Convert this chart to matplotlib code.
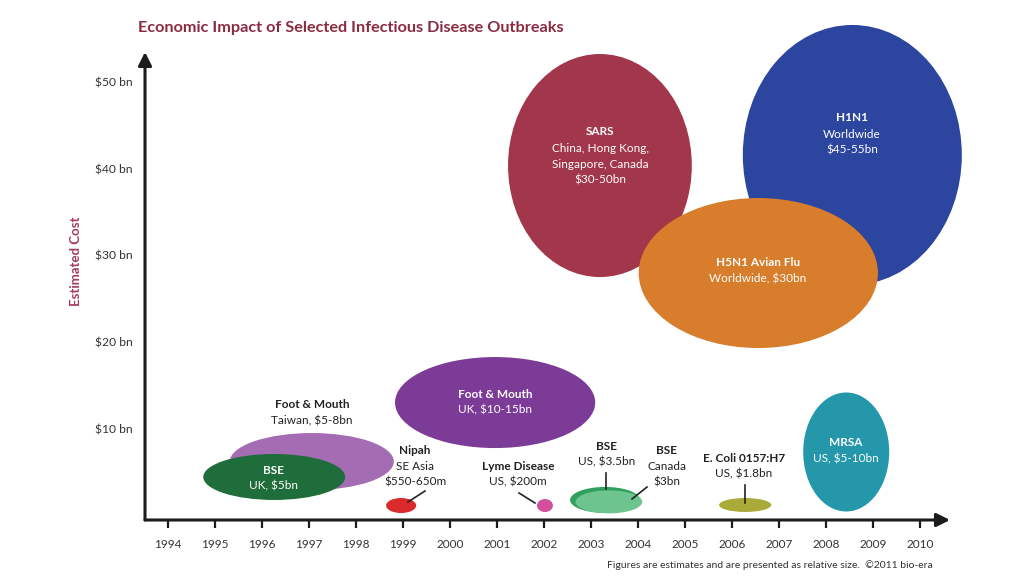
import matplotlib
matplotlib.use("Agg")
import matplotlib.pyplot as plt
from matplotlib.patches import Ellipse

plt.rcParams['font.family'] = ['Lato', 'DejaVu Sans']

# ---------------- data ----------------
years = list(range(1994, 2011))
cost_ticks = [10, 20, 30, 40, 50]
cost_tick_labels = ["$10 bn", "$20 bn", "$30 bn", "$40 bn", "$50 bn"]

outbreaks = ["Foot & Mouth (Taiwan)", "BSE (UK)", "Nipah", "Foot & Mouth (UK)", "Lyme Disease",
             "SARS", "BSE (US)", "BSE (Canada)", "H1N1", "H5N1 Avian Flu", "E. Coli 0157:H7", "MRSA"]
center_year = [1997.06, 1996.26, 1998.96, 2000.96, 2002.02,
               2003.19, 2003.30, 2003.38, 2008.56, 2006.56, 2006.28, 2008.43]
center_cost = [6.25, 4.47, 1.18, 13.05, 1.18,
               40.37, 1.82, 1.60, 41.59, 27.98, 1.24, 7.35]
# relative bubble size (width in years, height in $bn)
bubble_width = [3.49, 3.02, 0.64, 4.26, 0.34,
                3.91, 1.49, 1.42, 4.66, 5.09, 1.11, 1.83]
bubble_height = [6.57, 5.30, 1.73, 10.49, 1.50,
                 25.71, 3.00, 2.65, 29.97, 17.29, 1.61, 13.72]
bubble_colors = ["#A46CB3", "#1F6D3B", "#DA2A2C", "#7D3B98", "#D4509F",
                 "#A2364A", "#30A05C", "#6EC48F", "#2C46A0", "#D77D2B", "#A9AA37", "#2497AA"]

label_titles = ["Foot & Mouth", "BSE", "Nipah", "Foot & Mouth", "Lyme Disease",
                "SARS", "BSE", "BSE", "H1N1", "H5N1 Avian Flu",
                "E. Coli 0157:H7", "MRSA"]
label_details = [["Taiwan, $5-8bn"], ["UK, $5bn"], ["SE Asia", "$550-650m"], ["UK, $10-15bn"],
                 ["US, $200m"], ["China, Hong Kong,", "Singapore, Canada", "$30-50bn"],
                 ["US, $3.5bn"], ["Canada", "$3bn"], ["Worldwide", "$45-55bn"],
                 ["Worldwide, $30bn"], ["US, $1.8bn"], ["US, $5-10bn"]]

# ---------------- layout ----------------
W, H = 1024, 576
X0_PX, YR_PX = 168.0, 47.0      # pixel of 1994, pixels per year
Y0_PX, BN_PX = 515.75, 8.675    # pixel of $0, pixels per $bn


def px_x(px):
    return 1994 + (px - X0_PX) / YR_PX


def px_y(py):
    return (Y0_PX - py) / BN_PX


# label anchor (pixel) and text colour
label_pos = [(312, 405), (274, 470), (415, 450), (495, 394), (518, 466),
             (600, 132), (607, 446), (667, 450), (852, 118), (758, 263), (744, 458), (846, 443)]
label_white = [False, True, False, True, False, True, False, False, True, True, False, True]
leaders = {2: ((425, 491), (408, 502)), 4: ((519, 493), (535, 503)),
           6: ((606, 473), (606, 489)), 7: ((647, 487), (632, 499)),
           10: ((745, 485), (745, 503))}

fig = plt.figure(figsize=(W / 100, H / 100), dpi=100)
fig.patch.set_facecolor("white")
ax_l, ax_r, ax_b, ax_t = 145, 950, 520, 52
ax = fig.add_axes([ax_l / W, (H - ax_b) / H, (ax_r - ax_l) / W, (ax_b - ax_t) / H])
ax.set_xlim(px_x(ax_l), px_x(ax_r))
ax.set_ylim(px_y(ax_b), px_y(ax_t))
ax.set_facecolor("none")
for s in ax.spines.values():
    s.set_visible(False)

axis_col = "#1c1c1c"
ax.annotate("", xy=(1, 0), xytext=(0, 0), xycoords="axes fraction",
            arrowprops=dict(arrowstyle="-|>", lw=2.2, color=axis_col, mutation_scale=20,
                            shrinkA=0, shrinkB=0), annotation_clip=False)
ax.annotate("", xy=(0, 1), xytext=(0, 0), xycoords="axes fraction",
            arrowprops=dict(arrowstyle="-|>", lw=2.2, color=axis_col, mutation_scale=20,
                            shrinkA=0, shrinkB=0), annotation_clip=False)

ax.set_xticks(years)
ax.set_xticklabels([str(y) for y in years])
ax.tick_params(axis="x", direction="out", length=6, width=1.6, color=axis_col,
               pad=8, labelsize=8.5, labelcolor="#333333")
ax.set_yticks(cost_ticks)
ax.set_yticklabels(cost_tick_labels)
ax.tick_params(axis="y", length=0, pad=9, labelsize=8.7, labelcolor="#333333")

# bubbles
for i in range(len(outbreaks)):
    e = Ellipse((center_year[i], center_cost[i]), bubble_width[i], bubble_height[i],
                facecolor=bubble_colors[i], edgecolor="none", clip_on=False, zorder=2 + i * 0.01)
    ax.add_patch(e)

# labels
for i in range(len(outbreaks)):
    col = "white" if label_white[i] else "#222222"
    x, y = px_x(label_pos[i][0]), px_y(label_pos[i][1])
    ax.annotate(label_titles[i], (x, y), ha="center", va="center", fontsize=8.5,
                fontweight="bold", color=col, zorder=5, annotation_clip=False)
    for k, line in enumerate(label_details[i]):
        ax.annotate(line, (x, y), xytext=(0, -(k + 1) * 11.6), textcoords="offset points",
                    ha="center", va="center", fontsize=8.5, color=col, zorder=5,
                    annotation_clip=False)

for i, (p1, p2) in leaders.items():
    ax.plot([px_x(p1[0]), px_x(p2[0])], [px_y(p1[1]), px_y(p2[1])],
            color="#222222", lw=1.2, zorder=6, clip_on=False)

fig.text(138 / W, 1 - 28 / H, "Economic Impact of Selected Infectious Disease Outbreaks",
         ha="left", va="center", fontsize=11.7, fontweight="bold", color="#8B2B42")
fig.text(76 / W, 1 - 261 / H, "Estimated Cost", rotation=90, ha="center", va="center",
         fontsize=9.5, fontweight="bold", color="#A33A5C")
fig.text(933 / W, 1 - 565 / H,
         "Figures are estimates and are presented as relative size.  \u00a92011 bio-era",
         ha="right", va="center", fontsize=7.5, color="#333333")

fig.savefig("out.png", dpi=100, facecolor="white")
